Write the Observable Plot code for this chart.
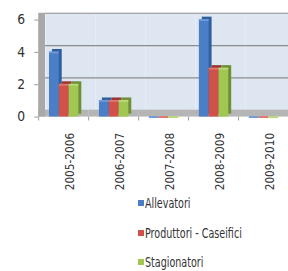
<!DOCTYPE html>
<html>
<head>
<meta charset="utf-8">
<script src="https://cdn.jsdelivr.net/npm/d3@7"></script>
<script src="https://cdn.jsdelivr.net/npm/@observablehq/plot@0.6"></script>
<style>
  html, body { margin: 0; padding: 0; background: #fff; overflow: hidden; }
  body { width: 288px; height: 271px; position: relative; font-family: "Liberation Sans Narrow", "DejaVu Sans Condensed", "DejaVu Sans", sans-serif; font-stretch: condensed; }
  #chart { position: absolute; left: 0; top: 0; }
  #legend { position: absolute; left: 138px; top: 194px; font-size: 14px; color: #333; }
  .item { display: flex; align-items: center; height: 18px; margin-bottom: 11.5px; }
  .sw { width: 6px; height: 6px; margin-right: 1px; }
  .lbl { display: inline-block; transform: scaleX(0.76); transform-origin: left center; white-space: nowrap; }
</style>
</head>
<body>
<div id="chart"></div>
<div id="legend"></div>
<script>
const years = ["2005-2006", "2006-2007", "2007-2008", "2008-2009", "2009-2010"];
const series = ["Allevatori", "Produttori - Caseifici", "Stagionatori"];
const allevatori = [4, 1, 0, 6, 0];
const produttori = [2, 1, 0, 3, 0];
const stagionatori = [2, 1, 0, 3, 0];
const yTicks = [0, 2, 4, 6];
const colors = ["#4a7ec6", "#d0504a", "#9fc752"];
const sideColors = ["#2f5f9e", "#9c3431", "#6e8f34"];
const topColors = ["#6f9ad6", "#e07570", "#bad97a"];

const valuesBySeries = [allevatori, produttori, stagionatori];
const data = [];
years.forEach((yr, i) => series.forEach((s, j) => data.push({year: yr, series: s, value: valuesBySeries[j][i]})));

const font = '"Liberation Sans Narrow", "DejaVu Sans Condensed", "DejaVu Sans", sans-serif';

const chart = Plot.plot({
  width: 294,
  height: 186,
  marginLeft: 39,
  marginRight: 0,
  marginTop: 20,
  marginBottom: 67,
  style: {fontFamily: font, fontStretch: "condensed", color: "#333", background: "transparent", overflow: "visible"},
  fx: {domain: years, padding: 0, axis: null},
  x: {domain: series, paddingInner: 0, paddingOuter: 0.82, axis: null},
  y: {domain: [0, 6], axis: null},
  color: {domain: series, range: colors},
  marks: [
    Plot.frame({fill: "#dde6f1", dx: 7, dy: -7}),
    Plot.ruleY([2, 4, 6], {stroke: "#8c8c8c", strokeWidth: 1.2, dx: 7, dy: -7}),
    Plot.rect([0], {y1: 0, y2: 0, insetTop: -7, fill: "#b5b5b5"}),
    Plot.rect([{fx: years[0]}], {fx: "fx", y1: 0, y2: 6, insetTop: -7, insetRight: 44, fill: "#a8a8a8"}),
    Plot.barY(data, {fx: "year", x: "series", y: "value", fill: d => sideColors[series.indexOf(d.series)], dx: 3, dy: -3}),
    Plot.barY(data, {fx: "year", x: "series", y: "value", fill: "series"}),
    Plot.tickY(data, {fx: "year", x: "series", y: "value", stroke: d => topColors[series.indexOf(d.series)], strokeWidth: 2}),
    Plot.axisY(yTicks, {label: null, tickSize: 4, tickPadding: 10, fontSize: 14, stroke: "#999"}),
    Plot.axisFx({anchor: "bottom", label: null, tickSize: 4, tickFormat: () => "", dx: -25.5, stroke: "#999"}),
    Plot.axisFx({anchor: "bottom", label: null, tickSize: 0, tickRotate: -90, tickPadding: 16, dx: 7, fontSize: 12})
  ]
});
document.getElementById("chart").appendChild(chart);

const legend = document.getElementById("legend");
series.forEach((s, i) => {
  const item = document.createElement("div");
  item.className = "item";
  const sw = document.createElement("span");
  sw.className = "sw";
  sw.style.background = colors[i];
  const t = document.createElement("span");
  t.className = "lbl";
  t.textContent = s;
  item.appendChild(sw);
  item.appendChild(t);
  legend.appendChild(item);
});
</script>
</body>
</html>
